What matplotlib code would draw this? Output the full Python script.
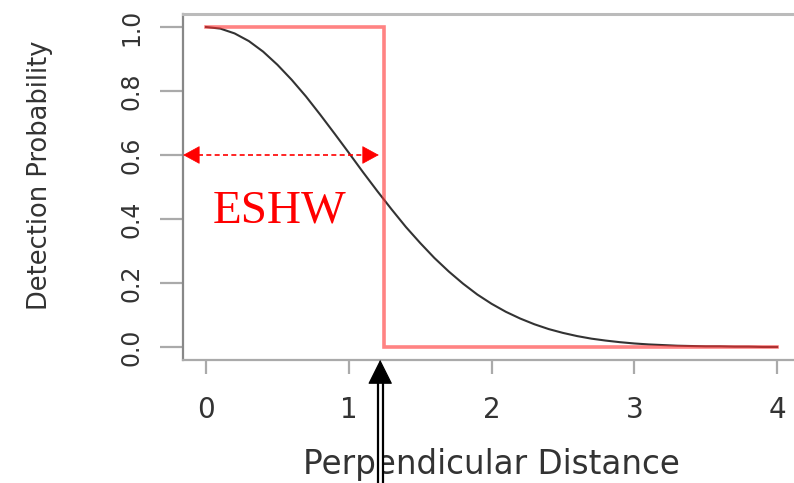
import numpy as np
import matplotlib
matplotlib.use("Agg")
from matplotlib import pyplot as plt

# Detection function (half-normal shape, 0..4)
distance = np.linspace(0, 4, 41)
detection = [1.000, 0.995, 0.980, 0.956, 0.923, 0.882, 0.835, 0.783, 0.726, 0.667,
             0.607, 0.546, 0.487, 0.430, 0.375, 0.325, 0.278, 0.236, 0.198, 0.164,
             0.135, 0.110, 0.089, 0.071, 0.056, 0.044, 0.034, 0.026, 0.020, 0.015,
             0.011, 0.008, 0.006, 0.004, 0.003, 0.002, 0.002, 0.001, 0.001, 0.000,
             0.000]

# Equivalent strip half width and its step function
eshw = 1.25
step_x = [0, eshw, eshw, 4]
step_y = [1, 1, 0, 0]
arrow_y = 0.6
arrow_x = 1.22

xticks = [0, 1, 2, 3, 4]
yticks = [0.0, 0.2, 0.4, 0.6, 0.8, 1.0]

fig = plt.figure(figsize=(7.94, 4.83), dpi=100)
ax = fig.add_axes([0.2307, 0.2551, 0.7768, 0.7155])
ax.set_xlim(-0.16, 4.16)
ax.set_ylim(-0.04, 1.04)

ax.plot(distance, detection, c="#333333", lw=1.5, zorder=2)
ax.plot(step_x, step_y, c="#ff3030", lw=2.6, alpha=0.6, zorder=3,
        solid_joinstyle="miter")

# dashed double arrow showing the ESHW (dashed shaft, solid heads)
left, right = -0.16, arrow_x - 0.01
hl = 0.105
ax.plot([left + hl, right - hl], [arrow_y, arrow_y], c="red", lw=1.2,
        ls=(0, (3, 2)), clip_on=False)
head_style = dict(arrowstyle="-|>,head_length=0.55,head_width=0.3",
                  mutation_scale=20, color="red", lw=0.5, shrinkA=0, shrinkB=0)
ax.annotate("", xy=(left, arrow_y), xytext=(left + hl, arrow_y),
            arrowprops=head_style, annotation_clip=False)
ax.annotate("", xy=(right, arrow_y), xytext=(right - hl, arrow_y),
            arrowprops=head_style, annotation_clip=False)
ax.text(0.05, 0.3875, "ESHW", color="red", fontsize=34,
        family="Liberation Serif", ha="left", va="baseline")

# black arrow pointing at the ESHW from below the axis
tip = -0.04
head = 0.069
ax.plot([arrow_x, arrow_x], [-0.5, tip - head + 0.005], c="black", lw=5.2,
        solid_capstyle="butt", clip_on=False, zorder=6)
ax.plot([arrow_x, arrow_x], [-0.5, tip - head + 0.005], c="white", lw=2.0,
        solid_capstyle="butt", clip_on=False, zorder=7)
ax.annotate("", xy=(arrow_x, tip), xytext=(arrow_x, tip - head),
            arrowprops=dict(arrowstyle="-|>,head_length=0.8,head_width=0.4",
                            mutation_scale=20, color="black", lw=0.8,
                            shrinkA=0, shrinkB=0),
            annotation_clip=False, zorder=8)

# R-like axes
ax.spines["right"].set_visible(False)
ax.spines["left"].set_color("#888888")
ax.spines["left"].set_linewidth(1.6)
ax.spines["bottom"].set_color("#aaaaaa")
ax.spines["bottom"].set_linewidth(1.6)
ax.spines["top"].set_color("#bbbbbb")
ax.spines["top"].set_linewidth(2.2)

ax.set_xticks(xticks)
ax.set_xticklabels([str(t) for t in xticks])
ax.set_yticks(yticks)
ax.set_yticklabels([f"{t:.1f}" for t in yticks])
ax.tick_params(axis="x", length=10, width=1.6, color="#aaaaaa", pad=16,
               labelsize=20, labelcolor="#333333")
ax.tick_params(axis="y", length=16.5, width=1.6, color="#aaaaaa", pad=12,
               labelsize=17, labelcolor="#333333")
plt.setp(ax.get_yticklabels(), rotation=90, va="center")

ax.set_xlabel("Perpendicular Distance", fontsize=23.5, color="#333333")
ax.xaxis.set_label_coords(0.5, -0.33)
ax.xaxis.label.set_va("baseline")
ax.set_ylabel("Detection Probability", fontsize=18.5, color="#333333")
ax.yaxis.set_label_coords(-0.232, 0.535)
ax.yaxis.label.set_va("center")

fig.savefig("out.png", dpi=100)
